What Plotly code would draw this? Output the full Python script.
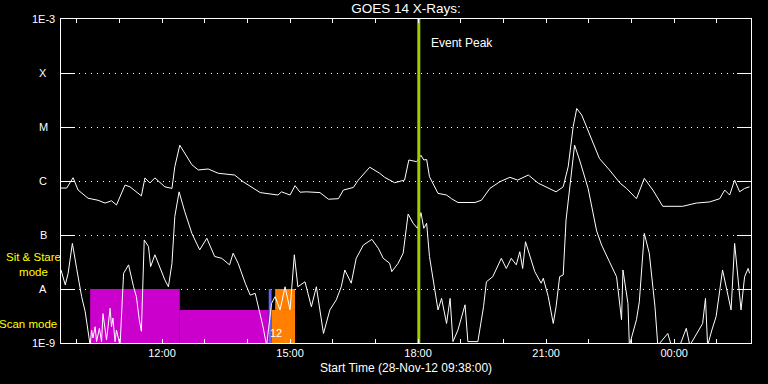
import plotly.graph_objects as go
from datetime import datetime, timedelta

# ---------------- data ----------------
long_times = ["09:38", "09:46", "09:55", "10:02", "10:16", "10:30", "10:40", "10:49", "10:56", "11:08",
              "11:15", "11:31", "11:36", "11:43", "11:50", "12:04", "12:14", "12:18", "12:25", "12:35",
              "12:42", "12:51", "13:05", "13:19", "13:42", "13:54", "14:18", "14:43", "14:48", "15:00",
              "15:07", "15:14", "15:23", "15:42", "15:54", "16:08", "16:15", "16:29", "16:36", "16:52",
              "17:06", "17:13", "17:27", "17:41", "17:47", "17:58", "18:04", "18:08", "18:12", "18:16",
              "18:28", "18:40", "18:47", "18:56", "19:20", "19:29", "19:41", "19:55", "20:09", "20:20",
              "20:35", "20:49", "21:05", "21:14", "21:24", "21:31", "21:38", "21:43", "21:50", "22:01",
              "22:15", "22:29", "22:44", "22:53", "23:07", "23:18", "23:30", "23:44", "00:12", "00:31",
              "00:50", "01:04", "01:11", "01:18", "01:25", "01:32", "01:39", "01:46"]
long_flux = [7.4e-7, 7.4e-7, 1.15e-6, 6.8e-7, 4.8e-7, 4.4e-7, 3.9e-7, 4.3e-7, 3.6e-7, 8.4e-7,
             7.8e-7, 5.3e-7, 1.14e-6, 9.2e-7, 1.14e-6, 7.8e-7, 7.3e-7, 1.84e-6, 4.6e-6, 2.8e-6,
             2.0e-6, 1.6e-6, 1.67e-6, 1.39e-6, 1.29e-6, 9.7e-7, 6.1e-7, 5.5e-7, 6.3e-7, 5.5e-7,
             8.2e-7, 6.2e-7, 6.3e-7, 6.1e-7, 4.6e-7, 4.7e-7, 6.8e-7, 7.6e-7, 1.04e-6, 1.8e-6,
             1.39e-6, 1.17e-6, 9.3e-7, 1.04e-6, 2.45e-6, 2.28e-6, 3.0e-6, 2.45e-6, 2.5e-6, 1.2e-6,
             5.9e-7, 5.5e-7, 4.7e-7, 4.0e-7, 4.0e-7, 4.4e-7, 7.3e-7, 9.7e-7, 1.17e-6, 1.04e-6,
             1.29e-6, 9.1e-7, 7.1e-7, 6.3e-7, 7.8e-7, 1.84e-6, 1.01e-5, 2.2e-5, 1.67e-5, 7.6e-6,
             2.6e-6, 1.6e-6, 9.1e-7, 7.3e-7, 4.7e-7, 1.12e-6, 6.8e-7, 3.4e-7, 3.4e-7, 3.9e-7,
             4.1e-7, 4.7e-7, 6.8e-7, 5.5e-7, 1.04e-6, 6.3e-7, 7.3e-7, 7.8e-7]

short_times = ["09:38", "09:44", "09:48", "09:54", "10:00", "10:07", "10:12", "10:16", "10:19", "10:21",
               "10:23", "10:26", "10:28", "10:32", "10:35", "10:37", "10:40", "10:42", "10:47", "10:49",
               "10:51", "10:54", "10:56", "10:59", "11:01", "11:06", "11:13", "11:20", "11:24", "11:28",
               "11:31", "11:35", "11:41", "11:44", "11:50", "12:04", "12:09", "12:14", "12:18", "12:24",
               "12:32", "12:42", "12:53", "13:03", "13:14", "13:24", "13:35", "13:40", "13:47", "13:57",
               "14:04", "14:11", "14:18", "14:22", "14:27", "14:34", "14:39", "14:46", "14:53", "15:00",
               "15:06", "15:11", "15:21", "15:30", "15:37", "15:47", "15:56", "16:05", "16:12", "16:17",
               "16:26", "16:33", "16:43", "16:55", "17:04", "17:11", "17:20", "17:23", "17:32", "17:39",
               "17:46", "17:53", "17:59", "18:04", "18:08", "18:12", "18:16", "18:23", "18:28", "18:33",
               "18:40", "18:45", "18:49", "18:56", "19:06", "19:10", "19:24", "19:32", "19:36", "19:45",
               "19:57", "20:04", "20:11", "20:18", "20:23", "20:27", "20:31", "20:44", "20:53", "20:56",
               "21:03", "21:10", "21:14", "21:19", "21:24", "21:28", "21:36", "21:40", "21:47", "21:59",
               "22:11", "22:18", "22:29", "22:39", "22:46", "22:48", "22:55", "22:57", "23:07", "23:11",
               "23:18", "23:25", "23:33", "23:37", "23:51", "23:56", "00:08", "00:17", "00:22", "00:40",
               "00:44", "00:47", "00:53", "00:59", "01:08", "01:15", "01:20", "01:25", "01:30", "01:34",
               "01:39", "01:44", "01:46"]
short_flux = [2.25e-8, 1.19e-8, 1.95e-8, 7.0e-8, 2.4e-8, 7.2e-9, 3.8e-9, 1.74e-9, 9e-10, 1.74e-9,
              1.24e-9, 2.0e-9, 1.06e-9, 1.87e-9, 1.06e-9, 3.5e-9, 1.53e-9, 1.14e-9, 4.4e-9, 2.0e-9,
              2.9e-9, 1.06e-9, 1.74e-9, 1.06e-9, 9e-10, 1.95e-8, 2.8e-8, 1.1e-8, 7.2e-9, 2.7e-9,
              1.65e-9, 8.1e-8, 6.1e-8, 2.6e-8, 4.3e-8, 1.47e-8, 1.1e-8, 3.0e-8, 2.2e-7, 6.3e-7,
              2.7e-7, 1.07e-7, 5.3e-8, 8.7e-8, 4.0e-8, 3.7e-8, 2.8e-8, 4.6e-8, 3.0e-8, 1.28e-8,
              7.7e-9, 8.3e-9, 3.5e-9, 2.0e-9, 9e-10, 5.4e-9, 7.2e-9, 4.1e-9, 1.1e-8, 4.1e-9,
              4.3e-8, 1.1e-8, 1.36e-8, 4.7e-9, 1.1e-8, 1.5e-9, 4.1e-9, 6.3e-9, 1.1e-8, 2.25e-8,
              1.28e-8, 3.7e-8, 6.5e-8, 8.3e-8, 5.7e-8, 3.7e-8, 3.0e-8, 2.1e-8, 3.0e-8, 4.6e-8,
              2.45e-7, 1.65e-7, 1.33e-7, 2.6e-7, 1.33e-7, 1.65e-7, 4.0e-8, 9.6e-9, 4.1e-9, 6.7e-9,
              2.3e-9, 6.7e-9, 1.06e-9, 1.74e-9, 5.1e-9, 1.06e-9, 1.06e-9, 4.7e-9, 1.36e-8, 1.69e-8,
              3.7e-8, 2.4e-8, 3.7e-8, 2.8e-8, 4.9e-8, 2.4e-8, 7.5e-8, 2.1e-8, 1.28e-8, 1.58e-8,
              7.2e-9, 2.3e-9, 4.7e-9, 1.69e-8, 1.82e-8, 1.9e-7, 1.84e-6, 4.6e-6, 2.45e-6, 7.3e-7,
              1.19e-7, 6.5e-8, 3.2e-8, 1.69e-8, 2.7e-9, 2.25e-8, 5.4e-9, 9e-10, 2.7e-9, 5.8e-9,
              1.07e-7, 4.6e-8, 4.7e-9, 9e-10, 1.5e-9, 9e-10, 9e-10, 1.87e-9, 9e-10, 2.3e-9,
              6.7e-9, 9e-10, 1.74e-9, 3.1e-9, 2.25e-8, 8.3e-9, 4.1e-9, 7.0e-8, 1.28e-8, 4.1e-9,
              1.69e-8, 2.4e-8, 1.95e-8]

# observing-mode blocks
mode_starts = ["10:19", "12:25", "14:30", "14:34", "14:39"]
mode_ends = ["12:25", "14:30", "14:34", "15:07", "15:07"]
mode_low = [1e-9, 1e-9, 1e-9, 1e-9, 4.1e-9]
mode_high = [1e-8, 4.1e-9, 1e-8, 4.1e-9, 1e-8]
mode_colors = ["#cc00cc", "#cc00cc", "#6464f0", "#ff8000", "#ff8000"]

event_peak = "18:01"
range_start, range_end = "09:38", "01:48"

class_labels = ["1E-3", "X", "M", "C", "B", "A", "1E-9"]
class_levels = [-3, -4, -5, -6, -7, -8, -9]

assert len(long_times) == len(long_flux)
assert len(short_times) == len(short_flux)


def to_dt(hhmm):
    h, m = map(int, hhmm.split(":"))
    d = datetime(2012, 11, 28, h, m)
    if h < 9:
        d += timedelta(days=1)
    return d


FONT = "Liberation Sans"
fig = go.Figure()

for s, e, lo, hi, c in zip(mode_starts, mode_ends, mode_low, mode_high, mode_colors):
    t0, t1 = to_dt(s), to_dt(e)
    fig.add_trace(go.Scatter(x=[t0, t1, t1, t0, t0], y=[lo, lo, hi, hi, lo], mode="lines",
                             fill="toself", fillcolor=c, line=dict(width=0, color=c),
                             hoverinfo="skip"))

fig.add_trace(go.Scatter(x=[to_dt(t) for t in long_times], y=long_flux, mode="lines",
                         line=dict(color="white", width=1)))
fig.add_trace(go.Scatter(x=[to_dt(t) for t in short_times], y=short_flux, mode="lines",
                         line=dict(color="white", width=1)))

pk = to_dt(event_peak)
fig.add_trace(go.Scatter(x=[pk, pk], y=[1e-9, 1e-3], mode="lines",
                         line=dict(color="#a0cc00", width=3)))

annotations = []
for lab, lv in zip(class_labels, class_levels):
    annotations.append(dict(text=lab, xref="paper", x=-0.026, xanchor="center",
                            yref="y", y=lv, yanchor="middle", showarrow=False,
                            font=dict(color="white", size=11, family=FONT)))

annotations += [
    dict(text="Sit & Stare<br>mode", xref="paper", x=(33 - 61) / 690, xanchor="center",
         yref="paper", y=(343 - 264) / 324, yanchor="middle", showarrow=False,
         align="center", borderpad=0,
         font=dict(color="#ffff00", size=11.5, family=FONT)),
    dict(text="Scan mode", xref="paper", x=(28 - 61) / 690, xanchor="center",
         yref="paper", y=(343 - 324) / 324, yanchor="middle", showarrow=False,
         font=dict(color="#ffff00", size=11.5, family=FONT)),
    dict(text="Event Peak", xref="paper", x=(429 - 61) / 690, xanchor="left",
         yref="paper", y=(343 - 43) / 324, yanchor="middle", showarrow=False,
         font=dict(color="white", size=12, family=FONT)),
    dict(text="12", xref="paper", x=(276 - 61) / 690, xanchor="center",
         yref="paper", y=(343 - 333) / 324, yanchor="middle", showarrow=False,
         font=dict(color="white", size=11, family=FONT)),
    dict(text="Start Time (28-Nov-12 09:38:00)", xref="paper", x=0.5, xanchor="center",
         yref="paper", y=(343 - 368) / 324, yanchor="middle", showarrow=False,
         font=dict(color="white", size=12, family=FONT)),
]

fig.update_layout(
    width=768, height=384,
    margin=dict(l=61, r=17, t=19, b=41),
    paper_bgcolor="black", plot_bgcolor="black",
    showlegend=False,
    font=dict(family=FONT, size=11, color="white"),
    title=dict(text="GOES 14 X-Rays:", x=0.5, xref="paper", xanchor="center",
               y=1 - 8 / 384, yref="container", yanchor="middle",
               font=dict(size=13.5, color="white", family=FONT)),
    annotations=annotations,
    xaxis=dict(type="date", range=[to_dt(range_start), to_dt(range_end)],
               showgrid=False, zeroline=False, showline=True, linecolor="white", linewidth=1,
               mirror="ticks", ticks="inside", ticklen=4, tickcolor="white", tickwidth=1,
               tick0="2012-11-28 00:00", dtick=3 * 3600 * 1000, tickformat="%H:%M",
               tickfont=dict(size=11, color="white", family=FONT),
               minor=dict(dtick=3600 * 1000, tick0="2012-11-28 00:00", ticks="inside",
                          ticklen=4, tickcolor="white", showgrid=False)),
    yaxis=dict(type="log", range=[-9, -3], dtick=1,
               showgrid=True, gridcolor="white", gridwidth=1, griddash="1px,5px",
               zeroline=False, showline=True, linecolor="white", linewidth=1,
               mirror="ticks", ticks="inside", ticklen=14, tickcolor="white", tickwidth=1,
               showticklabels=False),
)

fig.write_html("out.html")
